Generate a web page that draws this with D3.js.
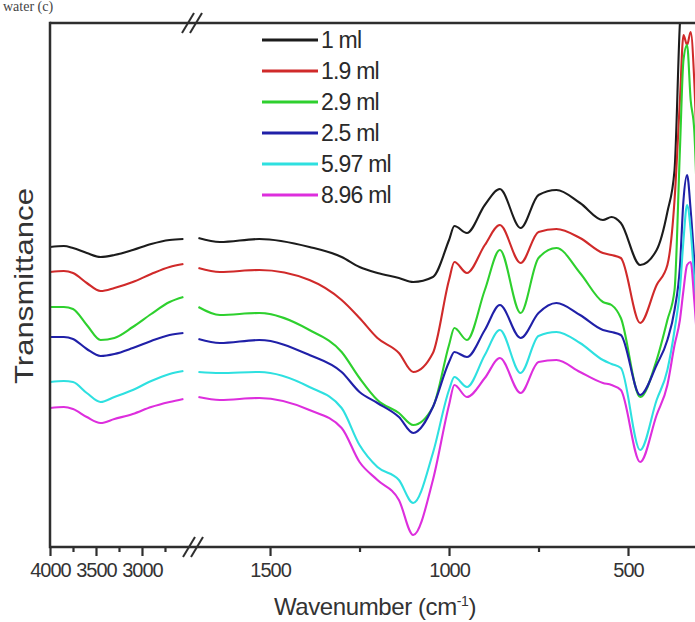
<!DOCTYPE html>
<html>
<head>
<meta charset="utf-8">
<script src="https://cdn.jsdelivr.net/npm/d3@7"></script>
<style>
  html, body { margin: 0; padding: 0; background: #fff; overflow: hidden; }
  svg { display: block; }
  text { font-family: "Liberation Sans", Arial, sans-serif; fill: #333; }
</style>
</head>
<body>
<svg id="chart" width="695" height="622"></svg>
<script>
// ---------- DATA ----------
// wavenumbers (cm^-1): first 10 in the high-wavenumber segment, rest after the axis break
const wavenumbers = [4000, 3850, 3750, 3600, 3450, 3300, 3100, 2900, 2700, 2550,
  1700, 1640, 1530, 1390, 1300, 1250, 1200, 1140, 1100, 1045, 1000, 985, 950, 900, 858,
  800, 750, 700, 634, 570, 546, 520, 466, 420, 390, 370, 355, 345, 335, 325, 315, 300];

const seriesNames = ["1 ml", "1.9 ml", "2.9 ml", "2.5 ml", "5.97 ml", "8.96 ml"];
const seriesColors = ["#1c1c1c", "#d02a2a", "#2ed02e", "#2020a8", "#2ee0e0", "#dd2edd"];

// transmittance (arbitrary units, offset spectra)
const t1ml = [30.0, 30.1, 29.9, 29.4, 29.0, 29.2, 29.7, 30.3, 30.7, 30.8,
  30.9, 30.5, 30.8, 30.0, 29.0, 28.0, 27.4, 26.9, 26.5, 27.0, 30.7, 32.1, 31.4, 34.2, 35.8,
  31.9, 35.2, 35.7, 34.4, 32.7, 33.0, 32.4, 28.2, 29.7, 33.5, 37.7, 52.4, 57.0, 58.0, 57.0, 55.0, 50.0];
const t19ml = [27.5, 27.6, 27.4, 26.4, 25.6, 25.9, 26.5, 27.3, 28.0, 28.3,
  27.9, 27.5, 27.7, 26.7, 24.7, 22.9, 20.9, 19.4, 17.5, 19.4, 26.7, 28.5, 27.4, 30.2, 32.2,
  28.4, 31.5, 31.8, 30.9, 29.4, 29.2, 28.9, 22.4, 26.2, 28.2, 34.7, 44.7, 51.2, 50.2, 51.5, 46.7, 29.7];
const t29ml = [24.0, 24.0, 23.8, 22.2, 20.7, 20.9, 22.0, 23.3, 24.5, 25.0,
  24.0, 23.2, 23.4, 21.7, 19.5, 16.9, 14.7, 13.4, 12.2, 14.0, 20.2, 21.9, 20.7, 25.7, 29.7,
  23.4, 28.9, 29.9, 27.4, 24.5, 24.2, 22.9, 15.0, 18.7, 22.7, 25.7, 39.7, 48.7, 50.2, 44.7, 41.7, 24.7];
const t25ml = [21.0, 21.0, 20.8, 19.8, 19.1, 19.3, 19.9, 20.6, 21.2, 21.4,
  20.8, 20.4, 20.7, 19.2, 17.5, 15.5, 14.4, 13.0, 11.4, 14.0, 18.5, 19.5, 19.0, 21.7, 24.2,
  20.9, 23.4, 24.4, 23.2, 21.7, 21.5, 21.2, 15.2, 18.2, 20.7, 23.7, 28.0, 34.7, 37.2, 33.7, 28.7, 19.7];
const t597ml = [16.5, 16.6, 16.5, 15.4, 14.5, 15.0, 15.7, 16.6, 17.3, 17.6,
  17.5, 17.4, 17.5, 16.0, 13.9, 10.2, 8.0, 6.7, 4.4, 9.4, 15.7, 17.0, 16.0, 19.2, 21.7,
  17.4, 21.1, 21.5, 20.4, 18.7, 18.3, 17.9, 9.7, 14.7, 17.7, 21.7, 25.7, 30.7, 34.2, 31.7, 26.7, 16.7];
const t896ml = [13.9, 14.0, 13.8, 13.0, 12.4, 12.8, 13.3, 14.0, 14.5, 14.8,
  15.0, 14.7, 14.9, 13.7, 11.9, 8.5, 6.7, 4.7, 1.2, 6.7, 14.2, 16.2, 15.0, 16.9, 18.9,
  15.4, 18.5, 18.7, 17.5, 16.4, 16.2, 15.7, 8.5, 13.2, 16.2, 20.2, 22.7, 25.7, 28.2, 28.5, 24.7, 16.7];

const majorTicksLeft = [4000, 3500, 3000];
const minorTicksLeft = [3750, 3250, 2750];
const majorTicksRight = [1500, 1000, 500];
const minorTicksRight = [1250, 750, 250];

const titleText = "water (c)";
const yLabel = "Transmittance";

// ---------- LAYOUT ----------
const L = 50, T = 23, B = 547, Rr = 760;
const breakX = 190;
const svg = d3.select("#chart");

const xL = d3.scaleLinear().domain([4000, 2478]).range([L, breakX]);
const xR = d3.scaleLinear().domain([1718, 250]).range([192, 717.5]);
const y = d3.scaleLinear().domain([0, 52.4]).range([B, T]);
const xOf = w => (w > 2000 ? xL(w) : xR(w));

const seriesValues = [t1ml, t19ml, t29ml, t25ml, t597ml, t896ml];
const series = seriesNames.map((n, i) => ({
  name: n, color: seriesColors[i],
  pts: wavenumbers.map((w, j) => ({ w, v: seriesValues[i][j] }))
}));

svg.append("defs").append("clipPath").attr("id", "plotclip")
  .append("rect").attr("x", L).attr("y", T).attr("width", Rr - L).attr("height", B - T);

// small title at very top
svg.append("text").attr("x", 3).attr("y", 11)
  .style("font-family", "'Liberation Serif', 'Times New Roman', serif")
  .style("font-size", "14px").style("fill", "#444").text(titleText);

// curves
const line = d3.line().x(d => xOf(d.w)).y(d => y(d.v)).curve(d3.curveMonotoneX);
const g = svg.append("g").attr("clip-path", "url(#plotclip)");
series.forEach(s => {
  const left = s.pts.filter(p => p.w > 2000);
  const right = s.pts.filter(p => p.w < 2000);
  [left, right].forEach(seg => {
    g.append("path").datum(seg).attr("d", line)
      .attr("fill", "none").attr("stroke", s.color)
      .attr("stroke-width", 2.1).attr("stroke-linejoin", "round");
  });
});

// frame lines
const axisColor = "#2e2e2e";
svg.append("line").attr("x1", L).attr("x2", 720).attr("y1", T).attr("y2", T)
  .attr("stroke", axisColor).attr("stroke-width", 2.5);
svg.append("line").attr("x1", L).attr("x2", 720).attr("y1", B).attr("y2", B)
  .attr("stroke", axisColor).attr("stroke-width", 2.5);
svg.append("line").attr("x1", L).attr("x2", L).attr("y1", T - 1.2).attr("y2", B + 1.2)
  .attr("stroke", axisColor).attr("stroke-width", 2.5);

// break marks
function breakMark(cx, cy) {
  [-4, 4].forEach(dx => {
    svg.append("line")
      .attr("x1", cx + dx - 6).attr("y1", cy + 10)
      .attr("x2", cx + dx + 6).attr("y2", cy - 10)
      .attr("stroke", axisColor).attr("stroke-width", 2);
  });
}
breakMark(breakX + 2, T);
breakMark(breakX + 3, B);

// axes
function addAxis(scale, ticks, size, labels) {
  const ax = d3.axisBottom(scale).tickValues(ticks).tickSize(size).tickSizeOuter(0)
    .tickFormat(labels ? d3.format("d") : () => "");
  const a = svg.append("g").attr("transform", `translate(0,${B})`).call(ax);
  a.select(".domain").remove();
  a.selectAll(".tick line").attr("stroke", axisColor).attr("stroke-width", 2.2);
  a.selectAll(".tick text").attr("y", size + 7).attr("dy", "0.71em")
    .style("font-size", "20px").style("letter-spacing", "-1px").style("fill", "#333")
    .style("font-family", "'Liberation Sans', Arial, sans-serif");
  return a;
}
addAxis(xL, majorTicksLeft, 9, true);
addAxis(xL, minorTicksLeft, 5, false);
addAxis(xR, majorTicksRight, 9, true);
addAxis(xR, minorTicksRight, 5, false);

// axis titles
const xt = svg.append("text").attr("x", 375).attr("y", 615).attr("text-anchor", "middle")
  .style("font-size", "24px").style("letter-spacing", "-0.4px");
xt.append("tspan").text("Wavenumber (cm");
xt.append("tspan").attr("dy", -9).style("font-size", "14px").text("-1");
xt.append("tspan").attr("dy", 9).text(")");

svg.append("text").attr("transform", "translate(33,286) rotate(-90)")
  .attr("text-anchor", "middle").style("font-size", "26px")
  .attr("textLength", 196).attr("lengthAdjust", "spacingAndGlyphs").text(yLabel);

// legend
const legendY = [40, 71, 102, 133, 164, 195];
series.forEach((s, i) => {
  svg.append("line").attr("x1", 262).attr("x2", 318)
    .attr("y1", legendY[i]).attr("y2", legendY[i])
    .attr("stroke", s.color).attr("stroke-width", 2.8);
  svg.append("text").attr("x", 321).attr("y", legendY[i]).attr("dy", "0.36em")
    .style("font-size", "23px").style("letter-spacing", "-0.8px").style("fill", "#2a2a2a")
    .text(s.name);
});
</script>
</body>
</html>
